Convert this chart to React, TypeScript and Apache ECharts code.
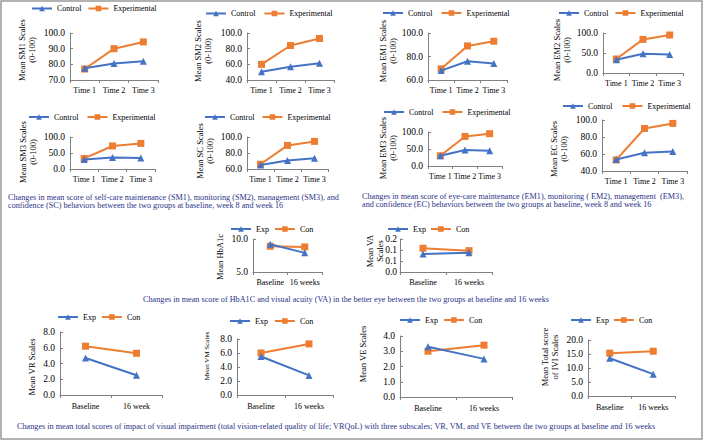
import React, { useEffect, useRef } from "react";
import * as echarts from "echarts";

// ---------- data ----------
const timeCats = ["Time 1", "Time 2", "Time 3"];
const weekCats = ["Baseline", "16 weeks"];
const weekCatsVR = ["Baseline", "16 week"];

const sm1Control = [77.5, 80.5, 82.0];
const sm1Experimental = [77.0, 90.0, 94.3];
const sm2Control = [50.5, 57.0, 61.5];
const sm2Experimental = [60.0, 84.0, 93.0];
const em1Control = [68.0, 76.0, 74.0];
const em1Experimental = [69.5, 89.0, 93.0];
const em2Control = [33.0, 48.0, 46.0];
const em2Experimental = [35.0, 84.0, 95.0];
const sm3Control = [30.0, 36.0, 34.0];
const sm3Experimental = [33.0, 72.0, 80.0];
const scControl = [65.0, 70.5, 73.5];
const scExperimental = [66.0, 89.5, 94.5];
const em3Control = [30.0, 47.0, 45.0];
const em3Experimental = [30.0, 87.0, 95.0];
const ecControl = [53.5, 61.5, 63.0];
const ecExperimental = [53.0, 90.0, 96.0];

const hbExp = [9.2, 7.9];
const hbCon = [8.9, 8.8];
const vaExp = [0.082, 0.087];
const vaCon = [0.108, 0.097];

const vrExp = [4.7, 2.5];
const vrCon = [6.2, 5.3];
const vmExp = [5.5, 2.8];
const vmCon = [6.0, 7.3];
const veExp = [3.3, 2.5];
const veCon = [3.0, 3.4];
const iviExp = [13.5, 7.8];
const iviCon = [15.3, 16.0];

const captionSelfCare = [
  "Changes in mean score of self-care maintenance (SM1), monitoring (SM2), management (SM3), and",
  "confidence (SC) behaviors between the two groups at baseline, week 8 and week 16",
];
const captionEyeCare = [
  "Changes in mean score of eye-care maintenance (EM1), monitoring ( EM2), management  (EM3),",
  "and confidence (EC) behaviors between the two groups at baseline, week 8 and week 16",
];
const captionHb =
  "Changes in mean score of HbA1C and visual acuity (VA) in the better eye between the two groups at baseline and 16 weeks";
const captionVRQoL =
  "Changes in mean total scores of impact of visual impairment (total vision-related quality of life; VRQoL) with three subscales; VR, VM, and VE between the two groups at baseline and 16 weeks";

// ---------- styling ----------
const FONT = "Liberation Serif";
const BLUE = "#4472C4";
const ORANGE = "#ED7D31";
const AXIS = "#808080";
const CAPTION = "#2B3388";

type Panel = {
  cats: string[];
  names: [string, string];
  blue: number[];
  orange: number[];
  min: number;
  max: number;
  interval: number;
  yName: string;
  namePos: [number, number];
  nameSize: number;
  grid: [number, number, number, number];
  legend: [number, number];
  legendGap: number;
  labelMargin: number;
  yLabelMargin: number;
};

const CE: [string, string] = ["Control", "Experimental"];
const EC: [string, string] = ["Exp", "Con"];

const panels: Panel[] = [
  { cats: timeCats, names: CE, blue: sm1Control, orange: sm1Experimental, min: 70, max: 100, interval: 10, yName: "Mean SM1 Scales\n(0-100)", namePos: [27, 50], nameSize: 8.5, grid: [70, 33, 88, 47], legend: [31, 9.5], legendGap: 6, labelMargin: 6, yLabelMargin: 5 },
  { cats: timeCats, names: CE, blue: sm2Control, orange: sm2Experimental, min: 40, max: 100, interval: 20, yName: "Mean SM2 Scales\n(0-100)", namePos: [203, 51], nameSize: 8.5, grid: [247, 33, 87, 47], legend: [205, 14.5], legendGap: 8, labelMargin: 6, yLabelMargin: 5 },
  { cats: timeCats, names: CE, blue: em1Control, orange: em1Experimental, min: 60, max: 100, interval: 20, yName: "Mean EM1 Scales\n(0-100)", namePos: [388, 51], nameSize: 8.5, grid: [428, 33, 79, 47], legend: [382, 14], legendGap: 8, labelMargin: 6, yLabelMargin: 5 },
  { cats: timeCats, names: CE, blue: em2Control, orange: em2Experimental, min: 0, max: 100, interval: 50, yName: "Mean EM2 Scales\n(0-100)", namePos: [562, 50], nameSize: 8.5, grid: [603, 33, 80, 40], legend: [558, 14], legendGap: 6, labelMargin: 6, yLabelMargin: 5 },
  { cats: timeCats, names: CE, blue: sm3Control, orange: sm3Experimental, min: 0, max: 100, interval: 50, yName: "Mean SM3 Scales\n(0-100)", namePos: [28, 152], nameSize: 8.5, grid: [70, 137, 85, 32], legend: [28, 118], legendGap: 8, labelMargin: 6, yLabelMargin: 5 },
  { cats: timeCats, names: CE, blue: scControl, orange: scExperimental, min: 60, max: 100, interval: 20, yName: "Mean SC Scales\n(0-100)", namePos: [205, 151], nameSize: 8.5, grid: [247, 137, 81, 32], legend: [204, 118], legendGap: 7, labelMargin: 6, yLabelMargin: 5 },
  { cats: timeCats, names: CE, blue: em3Control, orange: em3Experimental, min: 0, max: 100, interval: 50, yName: "Mean EM3 Scales\n(0-100)", namePos: [388, 148], nameSize: 8.5, grid: [428, 132, 74, 34], legend: [383, 113], legendGap: 8, labelMargin: 6, yLabelMargin: 5 },
  { cats: timeCats, names: CE, blue: ecControl, orange: ecExperimental, min: 40, max: 100, interval: 20, yName: "Mean EC Scales\n(0-100)", namePos: [559, 149], nameSize: 8.5, grid: [602, 120, 85, 51], legend: [562, 107], legendGap: 9, labelMargin: 6, yLabelMargin: 5 },
  { cats: weekCats, names: EC, blue: hbExp, orange: hbCon, min: 5, max: 10, interval: 5, yName: "Mean HbA1c", namePos: [220, 257], nameSize: 8.5, grid: [253, 239, 69, 33], legend: [230, 230], legendGap: 5, labelMargin: 6, yLabelMargin: 5 },
  { cats: weekCats, names: EC, blue: vaExp, orange: vaCon, min: 0, max: 0.15, interval: 0.05, yName: "Mean VA\nScales", namePos: [375, 251], nameSize: 8.5, grid: [400, 239, 92, 33], legend: [387, 230], legendGap: 4, labelMargin: 6, yLabelMargin: 3 },
  { cats: weekCatsVR, names: EC, blue: vrExp, orange: vrCon, min: 0, max: 8, interval: 2, yName: "Mean VR Scales", namePos: [32, 367], nameSize: 8.5, grid: [60, 332, 102, 63], legend: [57, 318], legendGap: 5, labelMargin: 7, yLabelMargin: 5 },
  { cats: weekCats, names: EC, blue: vmExp, orange: vmCon, min: 0, max: 8, interval: 2, yName: "Mean VM Scales", namePos: [207, 356], nameSize: 7, grid: [237, 339, 96, 56], legend: [229, 322], legendGap: 6, labelMargin: 7, yLabelMargin: 5 },
  { cats: weekCats, names: EC, blue: veExp, orange: veCon, min: 0, max: 4, interval: 1, yName: "Mean VE Scales", namePos: [363, 354], nameSize: 8.5, grid: [400, 336, 112, 61], legend: [399, 321], legendGap: 5, labelMargin: 7, yLabelMargin: 5 },
  { cats: weekCats, names: EC, blue: iviExp, orange: iviCon, min: 0, max: 20, interval: 5, yName: "Mean Total score\nof IVI Scales", namePos: [549.5, 357], nameSize: 8.5, grid: [588, 340, 87, 56], legend: [570, 321], legendGap: 4, labelMargin: 7, yLabelMargin: 5 },
];

const fmt1 = (v: number) => (Math.round(v * 10 + 1e-6) / 10).toFixed(1);

function buildOption() {
  const grid: any[] = [];
  const xAxis: any[] = [];
  const yAxis: any[] = [];
  const series: any[] = [];
  const legend: any[] = [];
  const graphic: any[] = [
    {
      type: "rect",
      shape: { x: 1, y: 1, width: 701, height: 438 },
      style: { fill: "none", stroke: "#999999", lineWidth: 1.5 },
      silent: true,
    },
  ];

  panels.forEach((p, i) => {
    const [l, t, w, h] = p.grid;
    grid.push({ left: l, top: t, width: w, height: h, containLabel: false });
    xAxis.push({
      type: "category",
      gridIndex: i,
      data: p.cats,
      boundaryGap: true,
      axisLine: { show: true, lineStyle: { color: AXIS, width: 1 } },
      axisTick: { show: true, length: 3, lineStyle: { color: AXIS } },
      axisLabel: { fontFamily: FONT, fontSize: 8, color: "#000", margin: p.labelMargin, interval: 0 },
      splitLine: { show: false },
    });
    yAxis.push({
      type: "value",
      gridIndex: i,
      min: p.min,
      max: p.max,
      interval: p.interval,
      axisLine: { show: true, lineStyle: { color: AXIS, width: 1 } },
      axisTick: { show: true, inside: true, length: 3, lineStyle: { color: AXIS } },
      splitLine: { show: false },
      axisLabel: { fontFamily: FONT, fontSize: 9.5, color: "#000", margin: p.yLabelMargin, formatter: fmt1 },
    });
    series.push({
      type: "line",
      name: p.names[0],
      xAxisIndex: i,
      yAxisIndex: i,
      data: p.blue,
      symbol: "triangle",
      symbolSize: 7,
      itemStyle: { color: BLUE },
      lineStyle: { color: BLUE, width: 2 },
      z: 3,
    });
    series.push({
      type: "line",
      name: p.names[1],
      xAxisIndex: i,
      yAxisIndex: i,
      data: p.orange,
      symbol: "rect",
      symbolSize: 7,
      itemStyle: { color: ORANGE },
      lineStyle: { color: ORANGE, width: 2 },
      z: 2,
    });
    legend.push({
      left: p.legend[0],
      top: p.legend[1] - 5,
      padding: 0,
      itemWidth: 20,
      itemHeight: 7,
      itemGap: p.legendGap,
      selectedMode: false,
      data: [p.names[0], p.names[1]],
      textStyle: { fontFamily: FONT, fontSize: 8, color: "#000" },
    });
    graphic.push({
      type: "text",
      x: p.namePos[0],
      y: p.namePos[1],
      rotation: Math.PI / 2,
      style: {
        text: p.yName,
        fill: "#000",
        fontFamily: FONT,
        fontSize: p.nameSize,
        lineHeight: 10,
        textAlign: "center",
        textVerticalAlign: "middle",
      },
    });
  });

  const textEl = (text: string, x: number, y: number, align = "left") => ({
    type: "text",
    x,
    y,
    style: {
      text,
      fill: CAPTION,
      fontFamily: FONT,
      fontSize: 8.2,
      textAlign: align,
      textVerticalAlign: "middle",
    },
  });

  graphic.push(
    textEl(captionSelfCare[0], 8, 197),
    textEl(captionSelfCare[1], 8, 205),
    textEl(captionEyeCare[0], 362, 196),
    textEl(captionEyeCare[1], 362, 204),
    textEl(captionHb, 346, 299, "center"),
    textEl(captionVRQoL, 17, 426)
  );

  return {
    animation: false,
    backgroundColor: "#ffffff",
    textStyle: { fontFamily: FONT },
    grid,
    xAxis,
    yAxis,
    series,
    legend,
    graphic,
  };
}

export default function App() {
  const ref = useRef<HTMLDivElement>(null);
  useEffect(() => {
    if (!ref.current) return;
    const chart = echarts.init(ref.current, undefined, { renderer: "svg" });
    chart.setOption(buildOption() as any);
    return () => chart.dispose();
  }, []);
  return (
    <div
      ref={ref}
      style={{ position: "absolute", left: 0, top: 0, width: 703, height: 440 }}
    />
  );
}
